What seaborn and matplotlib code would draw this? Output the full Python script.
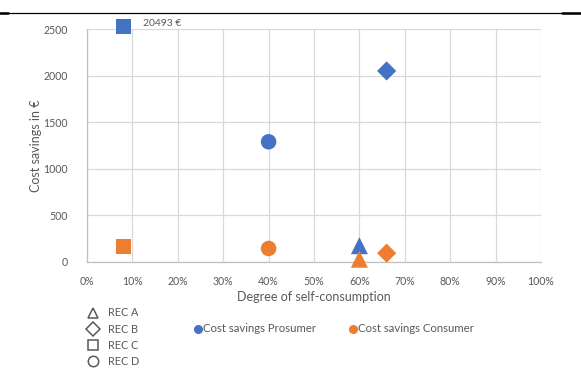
import numpy as np
import pandas as pd
import seaborn as sns
import matplotlib.pyplot as plt
from matplotlib.lines import Line2D

sns.set_theme(style="white")
plt.rcParams['font.family'] = ['Lato', 'DejaVu Sans']

# Cost savings per renewable energy community (REC)
recs = ["REC A", "REC B", "REC C", "REC D"]
self_consumption = [0.60, 0.66, 0.08, 0.40]
savings_prosumer = [175, 2050, 20493, 1290]
savings_consumer = [30, 95, 165, 145]

series_names = ["Cost savings Prosumer", "Cost savings Consumer"]
series_colors = ["#4472C4", "#ED7D31"]
rec_markers = {"REC A": "^", "REC B": "D", "REC C": "s", "REC D": "o"}
rec_sizes = {"REC A": 150, "REC B": 95, "REC C": 120, "REC D": 125}

y_top = 2500
y_cap = 2530   # off-scale values are pinned just above the axis top

df = pd.DataFrame({
    "rec": recs * 2,
    "degree": self_consumption * 2,
    "savings": savings_prosumer + savings_consumer,
    "series": [series_names[0]] * 4 + [series_names[1]] * 4,
})
df["shown"] = np.minimum(df["savings"], y_cap)

text_gray = "#595959"
grid_gray = "#D9D9D9"

fig = plt.figure(figsize=(5.81, 3.90), dpi=100)
ax = fig.add_axes([87 / 581, 1 - 262 / 390, (541 - 87) / 581, (262 - 29) / 390])

for rec in recs:
    sub = df[df["rec"] == rec]
    sns.scatterplot(data=sub, x="degree", y="shown", hue="series",
                    hue_order=series_names, palette=series_colors,
                    marker=rec_markers[rec], s=rec_sizes[rec], linewidth=0,
                    ax=ax, legend=False, clip_on=False, zorder=3)

# value label for the off-scale point
for _, row in df[df["savings"] > y_top].iterrows():
    ax.annotate(f"{row['savings']:.0f} €", (row["degree"], row["shown"]),
                xytext=(14, 2), textcoords="offset points", fontsize=7.5,
                color=text_gray, va="center", annotation_clip=False)

ax.set_xlim(0, 1)
ax.set_ylim(0, y_top)
ax.set_xticks(np.arange(0, 1.01, 0.1))
ax.set_xticklabels([f"{int(round(v * 100))}%" for v in np.arange(0, 1.01, 0.1)])
ax.set_yticks(np.arange(0, 2501, 500))
ax.grid(True, color=grid_gray, linewidth=0.9)
ax.set_axisbelow(True)
for side in ["top", "right"]:
    ax.spines[side].set_visible(False)
for side in ["left", "bottom"]:
    ax.spines[side].set_color("#BFBFBF")
    ax.spines[side].set_linewidth(0.9)
ax.tick_params(axis="y", labelsize=7.6, colors=text_gray, length=0, pad=14)
ax.tick_params(axis="x", labelsize=7.6, colors=text_gray, length=0, pad=10)
ax.set_xlabel("Degree of self-consumption", fontsize=9, color=text_gray, labelpad=3)
ax.set_ylabel("Cost savings in €", fontsize=9, color=text_gray, labelpad=0.5)

# legend for REC shapes
shape_handles = [Line2D([], [], linestyle="none", marker=rec_markers[r],
                        markerfacecolor="none", markeredgecolor=text_gray,
                        markeredgewidth=1.1, markersize=7.5) for r in recs]
leg1 = fig.legend(shape_handles, recs, loc="upper left",
                  bbox_to_anchor=(81 / 581, 1 - 302 / 390), frameon=False,
                  fontsize=7.8, labelcolor=text_gray, handlelength=1.2,
                  handletextpad=0.75, labelspacing=0.48, borderpad=0)

# legend for the two series
color_handles = [Line2D([], [], linestyle="none", marker="o", color=c,
                        markersize=5.5) for c in series_colors]
leg2 = fig.legend(color_handles, series_names, loc="center left",
                  bbox_to_anchor=(189 / 581, 1 - 329 / 390), frameon=False,
                  ncol=2, fontsize=8.2, labelcolor=text_gray, handlelength=0.6,
                  handletextpad=0.15, columnspacing=2.95, borderpad=0)

# rule along the top of the page
y_rule = 1 - 12.5 / 390
fig.add_artist(Line2D([0, 1], [y_rule, y_rule], color="black", linewidth=0.9,
                      transform=fig.transFigure))
fig.add_artist(Line2D([0, 8 / 581], [y_rule, y_rule], color="black", linewidth=1.8,
                      transform=fig.transFigure))
fig.add_artist(Line2D([562 / 581, 1], [y_rule, y_rule], color="black", linewidth=1.8,
                      transform=fig.transFigure))

fig.savefig("out.png", dpi=100)
